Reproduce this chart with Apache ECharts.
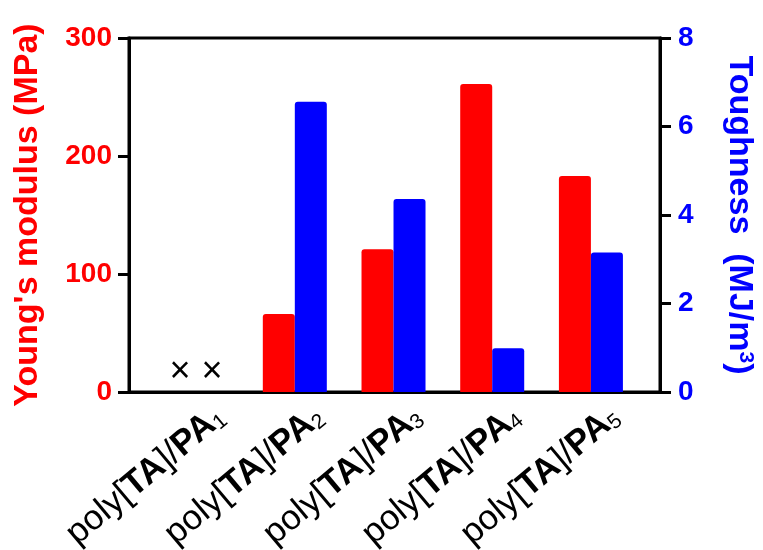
<!DOCTYPE html>
<html><head><meta charset="utf-8">
<script src="https://cdn.jsdelivr.net/npm/echarts@6/dist/echarts.min.js"></script>
<style>html,body{margin:0;padding:0;background:#fff}#c{width:763px;height:550px}</style>
</head><body><div id="c"></div>
<script>
const categories = ['poly[TA]/PA1', 'poly[TA]/PA2', 'poly[TA]/PA3', 'poly[TA]/PA4', 'poly[TA]/PA5'];
const modulus = [null, 66, 121, 261, 183];      // Young's modulus (MPa); null = not measured (×)
const toughness = [null, 6.56, 4.36, 0.99, 3.15]; // Toughness (MJ/m3); null = not measured (×)
const modulusAxis = { min: 0, max: 300, interval: 100 };
const toughnessAxis = { min: 0, max: 8, interval: 2 };
const missingMark = '×';

const FONT = 'Liberation Sans';
const chart = echarts.init(document.getElementById('c'), null, { renderer: 'canvas' });

function catLabel(i) {
  const m = categories[i].match(/^(poly\[)(TA)(\]\/)(PA)(\d+)$/);
  return '{n|' + m[1] + '}{b|' + m[2] + '}{n|' + m[3] + '}{b|' + m[4] + '}{s|' + m[5] + '}';
}

function toData(arr) {
  return arr.map((v, i) => v == null
    ? { value: [i, 0], label: { show: true, formatter: missingMark, position: 'top', distance: 2,
        color: '#000', fontSize: 36, fontWeight: 'normal', fontFamily: FONT } }
    : [i, v]);
}

const option = {
  animation: false,
  backgroundColor: '#fff',
  textStyle: { fontFamily: FONT },
  grid: { left: 129, right: 103, top: 38, bottom: 158, show: true, borderColor: '#000', borderWidth: 3,
          containLabel: false, outerBoundsMode: 'none' },
  xAxis: {
    type: 'value', min: -0.68, max: 4.70,
    axisLine: { show: true, onZero: false, lineStyle: { color: '#000', width: 3 } },
    axisTick: { show: false },
    splitLine: { show: false },
    axisLabel: {
      customValues: categories.map((c, i) => i + 0.23),
      rotate: 40, margin: 19,
      formatter: v => catLabel(Math.round(v)),
      rich: {
        n: { fontSize: 35, color: '#000', fontFamily: FONT, verticalAlign: 'bottom', lineHeight: 40 },
        b: { fontSize: 35, color: '#000', fontWeight: 'bold', fontFamily: FONT, verticalAlign: 'bottom', lineHeight: 40 },
        s: { fontSize: 21, color: '#000', fontFamily: FONT, verticalAlign: 'bottom', lineHeight: 21 }
      }
    }
  },
  yAxis: [
    {
      type: 'value', position: 'left', min: modulusAxis.min, max: modulusAxis.max, interval: modulusAxis.interval,
      name: "Young's modulus (MPa)", nameLocation: 'middle', nameGap: 84, nameRotate: 90, nameMoveOverlap: false,
      nameTextStyle: { color: '#FF0000', fontSize: 34, fontWeight: 'bold', fontFamily: FONT },
      axisLine: { show: true, onZero: false, lineStyle: { color: '#000', width: 3 } },
      axisTick: { show: true, inside: false, length: 11, lineStyle: { color: '#000', width: 3 } },
      splitLine: { show: false },
      axisLabel: { color: '#FF0000', fontSize: 28, fontWeight: 'bold', margin: 17, fontFamily: FONT }
    },
    {
      type: 'value', position: 'right', min: toughnessAxis.min, max: toughnessAxis.max, interval: toughnessAxis.interval,
      name: '{a|Toughness  (MJ/m}{p|3}{a|)}', nameLocation: 'middle', nameGap: 58, nameRotate: -90, nameMoveOverlap: false,
      nameTextStyle: {
        rich: {
          a: { color: '#0000FF', fontSize: 34, fontWeight: 'bold', fontFamily: FONT, verticalAlign: 'top', lineHeight: 38 },
          p: { color: '#0000FF', fontSize: 21, fontWeight: 'bold', fontFamily: FONT, verticalAlign: 'top', lineHeight: 21 }
        }
      },
      axisLine: { show: true, onZero: false, lineStyle: { color: '#000', width: 3 } },
      axisTick: { show: true, inside: false, length: 11, lineStyle: { color: '#000', width: 3 } },
      splitLine: { show: false },
      axisLabel: { color: '#0000FF', fontSize: 28, fontWeight: 'bold', margin: 18, fontFamily: FONT }
    }
  ],
  series: [
    {
      name: "Young's modulus", type: 'bar', xAxisIndex: 0, yAxisIndex: 0,
      data: toData(modulus), barWidth: 32, barGap: '0%',
      itemStyle: { color: '#FF0000', borderRadius: [3, 3, 0, 0] }
    },
    {
      name: 'Toughness', type: 'bar', xAxisIndex: 0, yAxisIndex: 1,
      data: toData(toughness), barWidth: 32, barGap: '0%',
      itemStyle: { color: '#0000FF', borderRadius: [3, 3, 0, 0] }
    }
  ]
};
chart.setOption(option);
</script>
</body></html>
